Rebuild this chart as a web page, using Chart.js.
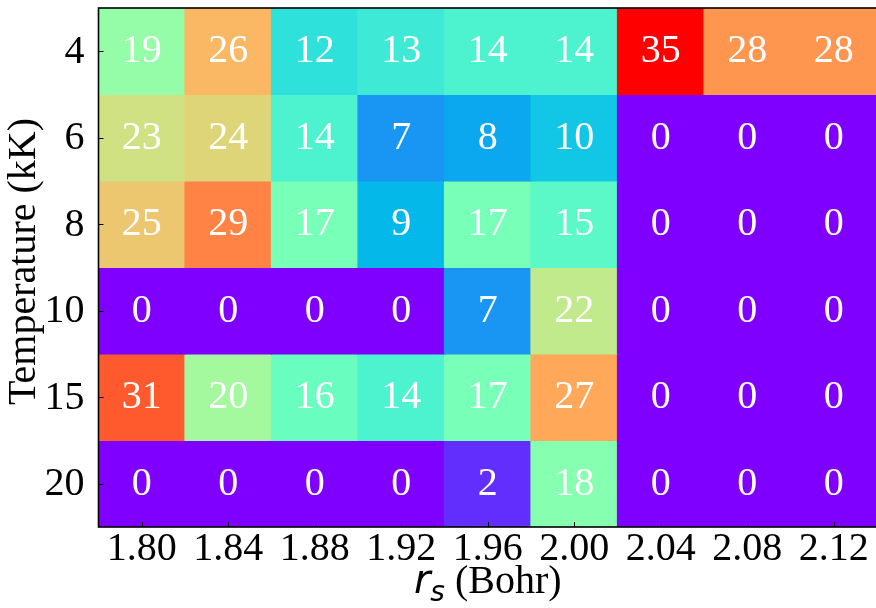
<!DOCTYPE html>
<html><head><meta charset="utf-8">
<script src="https://cdn.jsdelivr.net/npm/chart.js@4/dist/chart.umd.min.js"></script>
<style>
html,body{margin:0;padding:0;background:#fff;overflow:hidden;}
#wrap{position:relative;width:880px;height:608px;}
</style></head>
<body><div id="wrap"><canvas id="c"></canvas></div>
<script>
// ---- data ----
const rsLabels = ["1.80","1.84","1.88","1.92","1.96","2.00","2.04","2.08","2.12"];
const tempLabels = ["4","6","8","10","15","20"];
const countT4  = [19,26,12,13,14,14,35,28,28];
const countT6  = [23,24,14, 7, 8,10, 0, 0, 0];
const countT8  = [25,29,17, 9,17,15, 0, 0, 0];
const countT10 = [ 0, 0, 0, 0, 7,22, 0, 0, 0];
const countT15 = [31,20,16,14,17,27, 0, 0, 0];
const countT20 = [ 0, 0, 0, 0, 2,18, 0, 0, 0];
const colorMin = 0, colorMax = 35;

const rows = [countT4, countT6, countT8, countT10, countT15, countT20];

function rainbow(v){
  const x = Math.min(1, Math.max(0, (v - colorMin) / (colorMax - colorMin)));
  const r = Math.min(1, Math.abs(2*x - 0.5));
  const g = Math.sin(Math.PI*x);
  const b = Math.cos(Math.PI*x/2);
  return `rgb(${Math.round(r*255)},${Math.round(g*255)},${Math.round(b*255)})`;
}

const datasets = rows.map((row, ri) => ({
  label: tempLabels[ri] + ' kK',
  data: row.map(() => [ri - 0.5, ri + 0.5]),
  values: row,
  backgroundColor: row.map(rainbow),
  borderWidth: 0,
  inflateAmount: 0.6,
  barPercentage: 1,
  categoryPercentage: 1,
  grouped: false
}));

const SERIF = '"Liberation Serif", "Times New Roman", serif';
const FS = 40;

const heatPlugin = {
  id: 'heat',
  afterDatasetsDraw(chart) {
    const ctx = chart.ctx, xs = chart.scales.x, ys = chart.scales.y, a = chart.chartArea;
    ctx.save();
    ctx.fillStyle = '#fff';
    ctx.font = `${FS}px ${SERIF}`;
    ctx.textAlign = 'center';
    ctx.textBaseline = 'alphabetic';
    rows.forEach((row, ri) => {
      row.forEach((v, ci) => {
        const cx = xs.getPixelForValue(ci);
        const cy = ys.getPixelForValue(ri);
        ctx.fillText(String(v), cx, cy + 11);
      });
    });
    ctx.strokeStyle = '#000';
    ctx.lineWidth = 1;
    ctx.beginPath();
    xs.ticks.forEach((t, i) => {
      const px = Math.round(xs.getPixelForTick(i)) + 0.5;
      ctx.moveTo(px, a.bottom); ctx.lineTo(px, a.bottom - 5);
    });
    ys.ticks.forEach((t, i) => {
      const py = Math.round(ys.getPixelForTick(i)) + 0.5;
      ctx.moveTo(a.left, py); ctx.lineTo(a.left + 5, py);
    });
    ctx.stroke();
    ctx.lineWidth = 1.6;
    ctx.strokeRect(a.left, a.top, a.right - a.left, a.bottom - a.top);
    ctx.restore();
  },
  afterDraw(chart) {
    const ctx = chart.ctx, a = chart.chartArea;
    ctx.save();
    ctx.fillStyle = '#000';
    ctx.font = `${FS}px ${SERIF}`;
    ctx.translate(35, (a.top + a.bottom) / 2 - 6);
    ctx.rotate(-Math.PI / 2);
    ctx.textAlign = 'center';
    ctx.textBaseline = 'alphabetic';
    ctx.fillText('Temperature (kK)', 0, 0);
    ctx.restore();
    ctx.save();
    ctx.fillStyle = '#000';
    ctx.textBaseline = 'alphabetic';
    ctx.textAlign = 'left';
    const base = 593;
    const fR = `italic ${FS}px "DejaVu Sans"`;
    const fS = `italic ${Math.round(FS*0.7)}px "DejaVu Sans"`;
    const fB = `${FS}px ${SERIF}`;
    ctx.font = fR; const wR = ctx.measureText('r').width;
    ctx.font = fS; const wS = ctx.measureText('s').width;
    ctx.font = fB; const wB = ctx.measureText(' (Bohr)').width;
    const total = wR + wS + wB;
    let x = (a.left + a.right) / 2 - total / 2;
    ctx.font = fR; ctx.fillText('r', x, base); x += wR;
    ctx.font = fS; ctx.fillText('s', x, base + 8); x += wS;
    ctx.font = fB; ctx.fillText(' (Bohr)', x, base);
    ctx.restore();
  }
};

new Chart(document.getElementById('c'), {
  type: 'bar',
  data: { labels: rsLabels, datasets },
  options: {
    responsive: true,
    maintainAspectRatio: false,
    devicePixelRatio: 1,
    animation: false,
    layout: { padding: { left: 0, top: 8, right: 3, bottom: 0 } },
    plugins: { legend: { display: false }, tooltip: { enabled: false } },
    scales: {
      x: {
        type: 'category',
        offset: true,
        grid: { display: false },
        border: { display: false },
        ticks: { color: '#000', font: { family: SERIF, size: FS }, padding: -10, maxRotation: 0, autoSkip: false },
        afterFit: s => { s.height = 81; s.paddingLeft = 0; s.paddingRight = 0; }
      },
      y: {
        type: 'linear',
        min: -0.5, max: 5.5,
        reverse: true,
        grid: { display: false },
        border: { display: false },
        afterBuildTicks: s => { s.ticks = tempLabels.map((_, i) => ({ value: i })); },
        ticks: { color: '#000', font: { family: SERIF, size: FS }, padding: 6, labelOffset: 1,
                 callback: v => tempLabels[v] },
        afterFit: s => { s.width = 98.5; s.paddingTop = 0; s.paddingBottom = 0; }
      }
    }
  },
  plugins: [heatPlugin]
});
</script>
</body></html>
